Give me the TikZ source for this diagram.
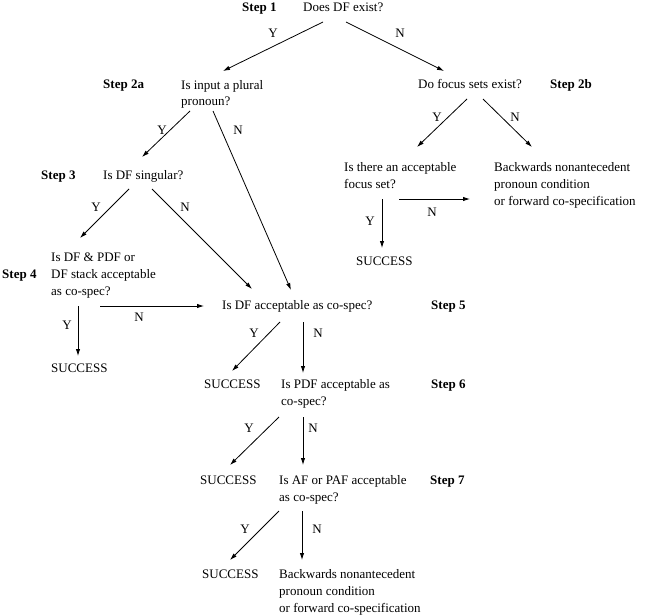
\documentclass[tikz,border=0pt]{standalone}
\usepackage{fontspec}
\setmainfont{Liberation Serif}
\usetikzlibrary{arrows.meta}
\tikzset{
  txt/.style={anchor=base west, inner sep=0pt, font=\fontsize{13}{16.8}\selectfont},
  mtxt/.style={anchor=north west, inner sep=0pt, align=left, font=\fontsize{13}{16.8}\selectfont},
  steplbl/.style={anchor=base west, inner sep=0pt, font=\fontsize{13}{16.8}\selectfont\bfseries},
  yn/.style={inner sep=0pt, font=\fontsize{13}{16.8}\selectfont},
  arr/.style={line width=0.8pt, -{Latex[length=7pt,width=4.4pt]}},
}
\begin{document}
\begin{tikzpicture}[x=1pt,y=-1pt]
\useasboundingbox (0,0) rectangle (647,615);
% ---- texts ----
\node[steplbl] (st1) at (242,11.5) {Step 1};
\node[txt] (q1) at (303,11.5) {Does DF exist?};
\node[steplbl] (st2a) at (103,89) {Step 2a};
\node[mtxt] (q2a) at (181,77.2) {\strut Is input a plural\\\strut pronoun?};
\node[txt] (q2b) at (418,88.5) {Do focus sets exist?};
\node[steplbl] (st2b) at (550,88.5) {Step 2b};
\node[steplbl] (st3) at (41,179.5) {Step 3};
\node[txt] (q3) at (103,179.5) {Is DF singular?};
\node[mtxt] (qfs) at (344,159.7) {\strut Is there an acceptable\\\strut focus set?};
\node[mtxt] (bn1) at (494,159.7) {\strut Backwards nonantecedent\\\strut pronoun condition\\\strut or forward co-specification};
\node[txt] (suc1) at (356,265.5) {SUCCESS};
\node[steplbl] (st4) at (2,278.5) {Step 4};
\node[mtxt] (q4) at (51,249.7) {\strut Is DF \& PDF or\\\strut DF stack acceptable\\\strut as co-spec?};
\node[txt] (q5) at (222,309.5) {Is DF acceptable as co-spec?};
\node[steplbl] (st5) at (431,309.5) {Step 5};
\node[txt] (suc2) at (51,372) {SUCCESS};
\node[txt] (suc3) at (204,388.5) {SUCCESS};
\node[mtxt] (q6) at (281,376.7) {\strut Is PDF acceptable as\\\strut co-spec?};
\node[steplbl] (st6) at (431,388.5) {Step 6};
\node[txt] (suc4) at (200,484.5) {SUCCESS};
\node[mtxt] (q7) at (279,472.7) {\strut Is AF or PAF acceptable\\\strut as co-spec?};
\node[steplbl] (st7) at (430,484.5) {Step 7};
\node[txt] (suc5) at (202,578.5) {SUCCESS};
\node[mtxt] (bn2) at (279,566.7) {\strut Backwards nonantecedent\\\strut pronoun condition\\\strut or forward co-specification};
% ---- connector end points ----
\coordinate (a1) at (323,22);  \coordinate (b1) at (223,71);
\coordinate (a2) at (346,22);  \coordinate (b2) at (444,71);
\coordinate (a3) at (467,99);  \coordinate (b3) at (417,147);
\coordinate (a4) at (483,99);  \coordinate (b4) at (532,147);
\coordinate (a5) at (190,111); \coordinate (b5) at (142,157);
\coordinate (a6) at (213,111); \coordinate (b6) at (291,290);
\coordinate (a7) at (129,189); \coordinate (b7) at (80,238);
\coordinate (a8) at (152,189); \coordinate (b8) at (252,289);
\coordinate (a9) at (100,306); \coordinate (b9) at (204,306);
\coordinate (a10) at (78,306); \coordinate (b10) at (78,356);
\coordinate (a11) at (382,199); \coordinate (b11) at (382,248);
\coordinate (a12) at (399,199); \coordinate (b12) at (470,199);
\coordinate (a13) at (280,322); \coordinate (b13) at (232,371);
\coordinate (a14) at (303,322); \coordinate (b14) at (303,373);
\coordinate (a15) at (279,417); \coordinate (b15) at (230,465);
\coordinate (a16) at (303,417); \coordinate (b16) at (303,465);
\coordinate (a17) at (279,511); \coordinate (b17) at (230,560);
\coordinate (a18) at (302,511); \coordinate (b18) at (302,560);
% ---- connectors ----
\draw[arr] (a1) -- (b1);  \node[yn] (y1) at (273,33) {Y};
\draw[arr] (a2) -- (b2);  \node[yn] (n1) at (400,33) {N};
\draw[arr] (a3) -- (b3);  \node[yn] (y2) at (437,117) {Y};
\draw[arr] (a4) -- (b4);  \node[yn] (n2) at (515,117) {N};
\draw[arr] (a5) -- (b5);  \node[yn] (y3) at (162,130) {Y};
\draw[arr] (a6) -- (b6);  \node[yn] (n3) at (238,130) {N};
\draw[arr] (a7) -- (b7);  \node[yn] (y4) at (96,207) {Y};
\draw[arr] (a8) -- (b8);  \node[yn] (n4) at (185,207) {N};
\draw[arr] (a9) -- (b9);  \node[yn] (n5) at (139,317) {N};
\draw[arr] (a10) -- (b10); \node[yn] (y5) at (67,325) {Y};
\draw[arr] (a11) -- (b11); \node[yn] (y6) at (370,221) {Y};
\draw[arr] (a12) -- (b12); \node[yn] (n6) at (432,212) {N};
\draw[arr] (a13) -- (b13); \node[yn] (y7) at (254,333) {Y};
\draw[arr] (a14) -- (b14); \node[yn] (n7) at (318,333) {N};
\draw[arr] (a15) -- (b15); \node[yn] (y8) at (249,428) {Y};
\draw[arr] (a16) -- (b16); \node[yn] (n8) at (313,428) {N};
\draw[arr] (a17) -- (b17); \node[yn] (y9) at (245,529) {Y};
\draw[arr] (a18) -- (b18); \node[yn] (n9) at (317,529) {N};
\end{tikzpicture}
\end{document}
